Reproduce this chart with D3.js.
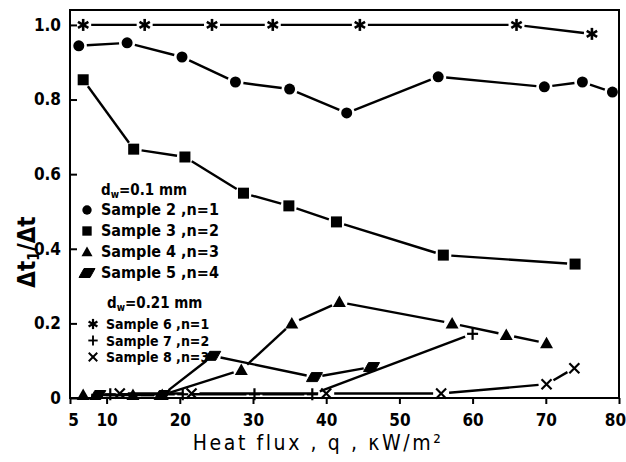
<!DOCTYPE html>
<html><head><meta charset="utf-8">
<script src="https://cdn.jsdelivr.net/npm/d3@7"></script>
<style>
body{margin:0;background:#fff;}
text{font-family:"DejaVu Sans Condensed","DejaVu Sans",sans-serif;fill:#000;}
</style></head>
<body><svg id="c" width="626" height="462"></svg>
<script>
// ---- data ----
const xTicks = [5,10,20,30,40,50,60,70,80];
const yTicks = [0,0.2,0.4,0.6,0.8,1.0];
const yTickLabels = ["0","0.2","0.4","0.6","0.8","1.0"];
const sample2 = [[6.2,0.944],[12.8,0.952],[20.3,0.914],[27.6,0.847],[35.0,0.828],[42.8,0.764],[55.3,0.861],[69.8,0.834],[75.0,0.847],[79.1,0.820]];
const sample3 = [[6.8,0.853],[13.7,0.667],[20.7,0.646],[28.7,0.549],[34.9,0.515],[41.4,0.472],[56.0,0.383],[74.0,0.359]];
const sample4 = [[6.8,0.008],[13.6,0.008],[17.6,0.008],[28.4,0.075],[35.3,0.200],[41.8,0.257],[57.2,0.200],[64.6,0.169],[70.1,0.147]];
const sample5 = [[8.8,0.008],[17.6,0.008],[24.5,0.113],[38.4,0.056],[46.2,0.083]];
const sample6 = [[6.8,1.0],[15.2,1.0],[24.4,1.0],[32.7,1.0],[44.6,1.0],[66.0,1.0],[76.3,0.976]];
const sample7 = [[10.5,0.01],[20.4,0.01],[30.2,0.01],[38.1,0.01],[60.0,0.172]];
const sample8 = [[11.8,0.012],[21.6,0.012],[40.0,0.012],[55.7,0.012],[70.1,0.037],[73.9,0.08]];
const legendGroup1 = ["Sample 2 ,n=1","Sample 3 ,n=2","Sample 4 ,n=3","Sample 5 ,n=4"];
const legendGroup2 = ["Sample 6 ,n=1","Sample 7 ,n=2","Sample 8 ,n=3"];

const svg = d3.select("#c");
const x = d3.scaleLinear().domain([5,80]).range([70,619]);
const y = d3.scaleLinear().domain([0,1.04]).range([398,10]);

// frame
svg.append("rect").attr("x",70).attr("y",10).attr("width",549).attr("height",388)
  .attr("fill","none").attr("stroke","#000").attr("stroke-width",2);

// axes
const xAxis = d3.axisBottom(x).tickValues(xTicks).tickSize(6).tickSizeOuter(0).tickFormat(d3.format("d"));
const gx = svg.append("g").attr("transform","translate(0,398)").call(xAxis);
gx.select(".domain").remove();
gx.selectAll("line").attr("stroke","#000").attr("stroke-width",2);
gx.selectAll("text").attr("font-size",17).attr("font-weight","bold").attr("dy","1.1em")
  .attr("dx",d=>d===5?3:(d===80?-4:0));

const yAxis = d3.axisLeft(y).tickValues(yTicks).tickSize(-7).tickSizeOuter(0).tickFormat((d,i)=>yTickLabels[i]);
const gy = svg.append("g").attr("transform","translate(70,0)").call(yAxis);
gy.select(".domain").remove();
gy.selectAll("line").attr("stroke","#000").attr("stroke-width",2);
gy.selectAll("text").attr("font-size",17).attr("font-weight","bold").attr("x",-9);

// axis labels
svg.append("text").attr("x",318).attr("y",450).attr("text-anchor","middle")
  .attr("font-size",21).attr("letter-spacing","2.6px")
  .text("Heat flux , q , κW/m²");
const yl = svg.append("text").attr("transform","translate(35,252) rotate(-90)")
  .attr("text-anchor","middle").attr("font-size",24).attr("font-weight","bold");
yl.append("tspan").text("Δt");
yl.append("tspan").attr("font-size",15).attr("dy",4).text("1");
yl.append("tspan").attr("dy",-4).text("/Δt");

// markers
const mk = {
  circle: g=>g.append("circle").attr("r",5.5),
  square: g=>g.append("rect").attr("x",-5.5).attr("y",-5.5).attr("width",11).attr("height",11),
  triangle: g=>g.append("path").attr("d","M0,-6.5L6.5,5L-6.5,5Z"),
  para: g=>g.append("path").attr("d","M-8,4.5L-3,-4.5L8,-4.5L3,4.5Z").attr("stroke","#000").attr("stroke-width",1).attr("stroke-linejoin","round"),
  star: g=>{[0,60,120].forEach(a=>g.append("line").attr("x1",0).attr("y1",-6).attr("x2",0).attr("y2",6)
            .attr("transform",`rotate(${a})`).attr("stroke","#000").attr("stroke-width",2.6));},
  plus: g=>{g.append("line").attr("x1",-5.5).attr("x2",5.5).attr("y1",0).attr("y2",0).attr("stroke","#000").attr("stroke-width",2.2);
            g.append("line").attr("y1",-6).attr("y2",6).attr("x1",0).attr("x2",0).attr("stroke","#000").attr("stroke-width",2.2);},
  cross: g=>{g.append("line").attr("x1",-5).attr("x2",5).attr("y1",-5).attr("y2",5).attr("stroke","#000").attr("stroke-width",2.2);
            g.append("line").attr("x1",-5).attr("x2",5).attr("y1",5).attr("y2",-5).attr("stroke","#000").attr("stroke-width",2.2);}
};

const series = [
  {data:sample2, m:"circle"},
  {data:sample3, m:"square"},
  {data:sample4, m:"triangle"},
  {data:sample5, m:"para"},
  {data:sample6, m:"star"},
  {data:sample7, m:"plus"},
  {data:sample8, m:"cross"}
];

const gap = 8;
const lines = svg.append("g");
series.forEach(s=>{
  for(let i=0;i<s.data.length-1;i++){
    const x1=x(s.data[i][0]), y1=y(s.data[i][1]), x2=x(s.data[i+1][0]), y2=y(s.data[i+1][1]);
    const L=Math.hypot(x2-x1,y2-y1);
    if(L<=2*gap+1) continue;
    const ux=(x2-x1)/L, uy=(y2-y1)/L;
    lines.append("line").attr("x1",x1+ux*gap).attr("y1",y1+uy*gap)
      .attr("x2",x2-ux*gap).attr("y2",y2-uy*gap)
      .attr("stroke","#000").attr("stroke-width",2.4);
  }
});
const marks = svg.append("g");
series.forEach(s=>{
  s.data.forEach(d=>{
    const g = marks.append("g").attr("transform",`translate(${x(d[0])},${y(d[1])})`);
    mk[s.m](g);
  });
});

// legend
function header(yy, val, xx){
  const t = svg.append("text").attr("x",xx).attr("y",yy).attr("font-size",15).attr("font-weight","bold");
  t.append("tspan").text("d");
  t.append("tspan").attr("font-size",10).attr("dy",3).text("w");
  t.append("tspan").attr("dy",-3).text("="+val+" mm");
}
header(195,"0.1",101);
const lg1m = ["circle","square","triangle","para"];
const lg1y = [215,236,257,278];
legendGroup1.forEach((t,i)=>{
  mk[lg1m[i]](svg.append("g").attr("transform",`translate(87,${lg1y[i]-5}) scale(${lg1m[i]==="para"?1:0.85})`));
  svg.append("text").attr("x",101).attr("y",lg1y[i]).attr("font-size",16).attr("font-weight","bold").text(t);
});
header(308,"0.21",107);
const lg2m = ["star","plus","cross"];
const lg2y = [329,345.5,362];
legendGroup2.forEach((t,i)=>{
  mk[lg2m[i]](svg.append("g").attr("transform",`translate(93,${lg2y[i]-5}) scale(0.85)`));
  svg.append("text").attr("x",106).attr("y",lg2y[i]).attr("font-size",14).attr("font-weight","bold").text(t);
});
</script></body></html>
